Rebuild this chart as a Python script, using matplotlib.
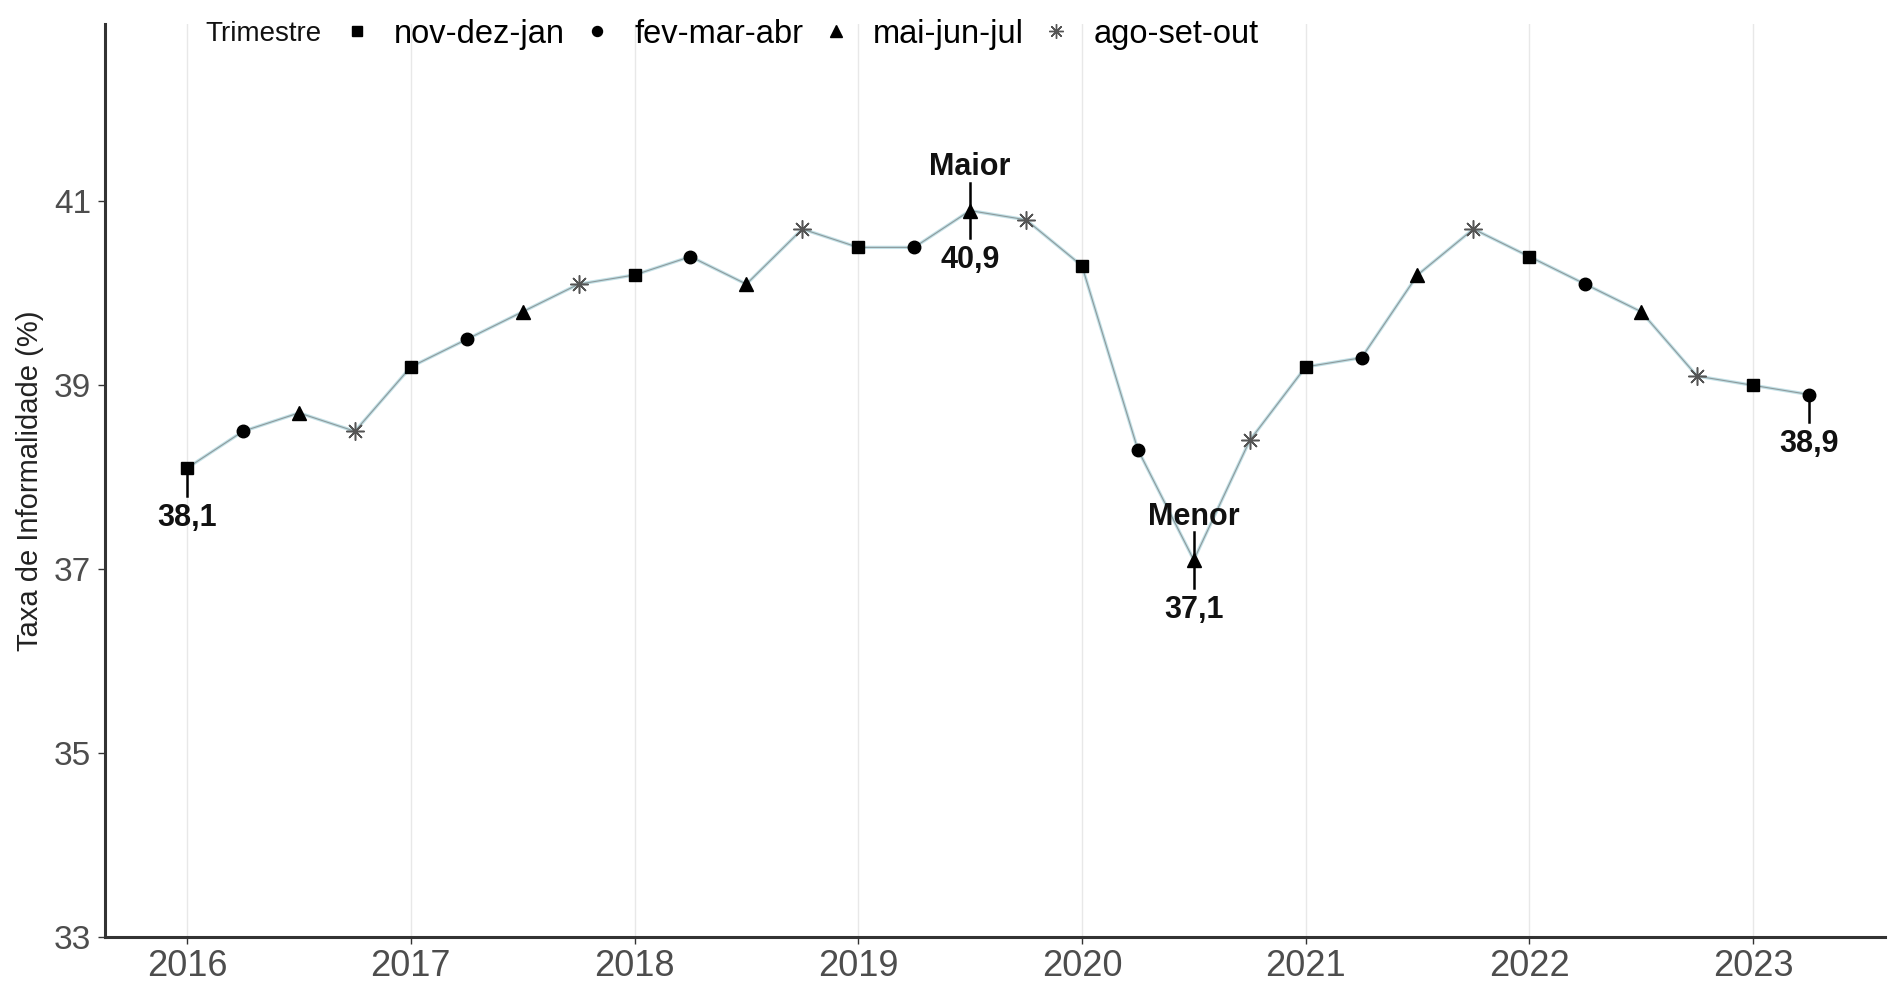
import numpy as np
import matplotlib
matplotlib.use("Agg")
import matplotlib.pyplot as plt
from matplotlib.lines import Line2D

plt.rcParams['font.family'] = ['Liberation Sans', 'DejaVu Sans']

# Trimestres moveis (posicao em anos decimais)
periodo = [2016.00, 2016.25, 2016.50, 2016.75,
           2017.00, 2017.25, 2017.50, 2017.75,
           2018.00, 2018.25, 2018.50, 2018.75,
           2019.00, 2019.25, 2019.50, 2019.75,
           2020.00, 2020.25, 2020.50, 2020.75,
           2021.00, 2021.25, 2021.50, 2021.75,
           2022.00, 2022.25, 2022.50, 2022.75,
           2023.00, 2023.25]

trimestre = ['nov-dez-jan', 'fev-mar-abr', 'mai-jun-jul', 'ago-set-out',
             'nov-dez-jan', 'fev-mar-abr', 'mai-jun-jul', 'ago-set-out',
             'nov-dez-jan', 'fev-mar-abr', 'mai-jun-jul', 'ago-set-out',
             'nov-dez-jan', 'fev-mar-abr', 'mai-jun-jul', 'ago-set-out',
             'nov-dez-jan', 'fev-mar-abr', 'mai-jun-jul', 'ago-set-out',
             'nov-dez-jan', 'fev-mar-abr', 'mai-jun-jul', 'ago-set-out',
             'nov-dez-jan', 'fev-mar-abr', 'mai-jun-jul', 'ago-set-out',
             'nov-dez-jan', 'fev-mar-abr']

taxa = [38.1, 38.5, 38.7, 38.5,
        39.2, 39.5, 39.8, 40.1,
        40.2, 40.4, 40.1, 40.7,
        40.5, 40.5, 40.9, 40.8,
        40.3, 38.3, 37.1, 38.4,
        39.2, 39.3, 40.2, 40.7,
        40.4, 40.1, 39.8, 39.1,
        39.0, 38.9]

categorias = ['nov-dez-jan', 'fev-mar-abr', 'mai-jun-jul', 'ago-set-out']
anos = [2016, 2017, 2018, 2019, 2020, 2021, 2022, 2023]
y_ticks = [33, 35, 37, 39, 41]

# estilo de cada trimestre
marcadores = {'nov-dez-jan': ('s', 'black', 9),
              'fev-mar-abr': ('o', 'black', 9),
              'mai-jun-jul': ('^', 'black', 10),
              'ago-set-out': ((8, 2, 0), '#555555', 13)}

fig = plt.figure(figsize=(18.89, 9.86), dpi=100)
ax = fig.add_axes([0.0556, 0.0497, 0.9423, 0.926])

# grade vertical
for a in anos:
    ax.axvline(a, color='#e8e8e8', lw=1.0, zorder=0)

# linha
ax.plot(periodo, taxa, color='#c2e0e6', lw=2.4, zorder=1)
ax.plot(periodo, taxa, color='#8d9a9c', lw=0.8, zorder=2)

# pontos por trimestre
for cat in categorias:
    xs = [p for p, t in zip(periodo, trimestre) if t == cat]
    ys = [v for v, t in zip(taxa, trimestre) if t == cat]
    mk, cor, ms = marcadores[cat]
    if cat == 'ago-set-out':
        ax.plot(xs, ys, ls='none', marker=mk, color=cor, ms=ms, mew=1.1, zorder=3)
    else:
        ax.plot(xs, ys, ls='none', marker=mk, color=cor, ms=ms, zorder=3)

# destaques
i_max = int(np.argmax(taxa))
i_min = int(np.argmin(taxa))
destaques = [(0, None), (i_max, 'Maior'), (i_min, 'Menor'), (len(taxa) - 1, None)]


def fmt(v):
    return f"{v:.1f}".replace('.', ',')


for i, titulo in destaques:
    x, y = periodo[i], taxa[i]
    ax.plot([x, x], [y, y - 0.3], color='black', lw=1.8, zorder=4)
    ax.text(x, y - 0.54, fmt(y), ha='center', va='center',
            fontsize=22, fontweight='bold', color='#111111', zorder=5)
    if titulo:
        ax.plot([x, x], [y, y + 0.3], color='black', lw=1.8, zorder=4)
        ax.text(x, y + 0.47, titulo, ha='center', va='center',
                fontsize=22, fontweight='bold', color='#111111', zorder=5)

ax.set_xlim(2015.633, 2023.59)
ax.set_ylim(33, 42.93)
ax.set_xticks(anos)
ax.set_xticklabels([str(a) for a in anos])
ax.set_yticks(y_ticks)
ax.set_yticklabels([str(v) for v in y_ticks])

for s in ['top', 'right']:
    ax.spines[s].set_visible(False)
for s in ['left', 'bottom']:
    ax.spines[s].set_linewidth(2.2)
    ax.spines[s].set_color('#333333')

ax.tick_params(axis='both', length=5, width=1, color='#333333', labelcolor='#4d4d4d')
ax.tick_params(axis='x', labelsize=26, pad=4)
ax.tick_params(axis='y', labelsize=24, pad=5)

ax.set_ylabel('Taxa de Informalidade (%)', fontsize=21, color='#222222', labelpad=7)

# legenda
fig.text(0.1085, 0.9655, 'Trimestre', fontsize=20, color='#111111',
         ha='left', va='center')
handles = []
for cat in categorias:
    mk, cor, ms = marcadores[cat]
    handles.append(Line2D([], [], ls='none', marker=mk, color=cor, ms=ms * 0.8, mew=1.0))
fig.legend(handles, categorias, loc='center left', bbox_to_anchor=(0.181, 0.9655),
           ncol=4, frameon=False, fontsize=23.5, handlelength=0.9, handletextpad=0.7,
           columnspacing=0.53, borderaxespad=0, borderpad=0)

fig.savefig('out.png', dpi=100, facecolor='white')
